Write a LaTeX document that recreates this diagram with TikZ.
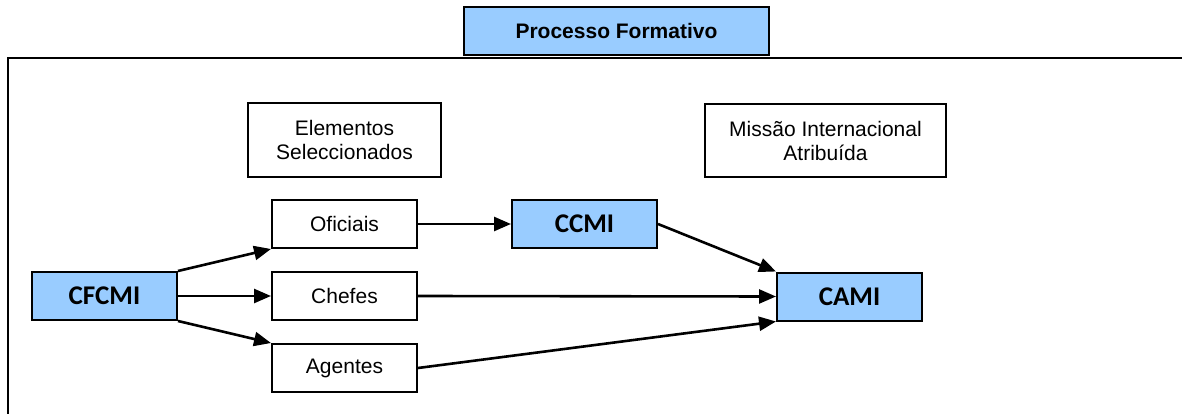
\documentclass[tikz,border=0pt]{standalone}
\usepackage{fontspec}
\setmainfont{Liberation Sans}
\newfontfamily\calib{Carlito}
\usetikzlibrary{arrows.meta}
\definecolor{boxblue}{HTML}{99CCFF}
\tikzset{
  x=1pt, y=-1pt,
  plain/.style={draw=black, line width=2pt, fill=white, inner sep=0pt, align=center,
    font=\fontsize{21}{24}\selectfont},
  bluebox/.style={draw=black, line width=2pt, fill=boxblue, inner sep=0pt, align=center,
    minimum width=145pt, minimum height=48pt, font=\calib\bfseries\fontsize{27}{30}\selectfont},
  conn/.style={line width=2.6pt, -{Triangle[length=17pt,width=14pt]}}
}
\begin{document}
\begin{tikzpicture}
\useasboundingbox (0,0) rectangle (1182,414);
% frame
\draw[line width=2.2pt] (1182,58) -- (8,58) -- (8,414);
% title
\node[plain, fill=boxblue, minimum width=305pt, minimum height=48pt,
  font=\bfseries\fontsize{21}{24}\selectfont] (proc) at (616.5,31) {Processo Formativo};
% headers
\node[plain, minimum width=193pt, minimum height=74pt] (elem) at (344.5,140) {Elementos\\Seleccionados};
\node[plain, minimum width=241pt, minimum height=73pt] (miss) at (825.5,140.5) {Missão Internacional\\Atribuída};
% groups
\node[plain, minimum width=145pt, minimum height=48pt] (ofi) at (344.5,224) {Oficiais};
\node[plain, minimum width=145pt, minimum height=48pt] (che) at (344.5,296) {Chefes};
\node[plain, minimum width=145pt, minimum height=48pt] (age) at (344.5,368) {Agentes};
% blue nodes
\node[bluebox] (cfcmi) at (104.5,296) {CFCMI};
\node[bluebox] (ccmi) at (584.5,224) {CCMI};
\node[bluebox] (cami) at (849.5,296.5) {CAMI};
% connectors
\draw[conn] (cfcmi.north east) -- (ofi.south west);
\draw[conn] (cfcmi.east) -- (che.west);
\draw[conn] (cfcmi.south east) -- (age.north west);
\draw[conn] (ofi.east) -- (ccmi.west);
\draw[conn] (ccmi.east) -- (cami.north west);
\draw[conn] (che.east) -- (cami.west);
\draw[conn] (age.east) -- (cami.south west);
\end{tikzpicture}
\end{document}
